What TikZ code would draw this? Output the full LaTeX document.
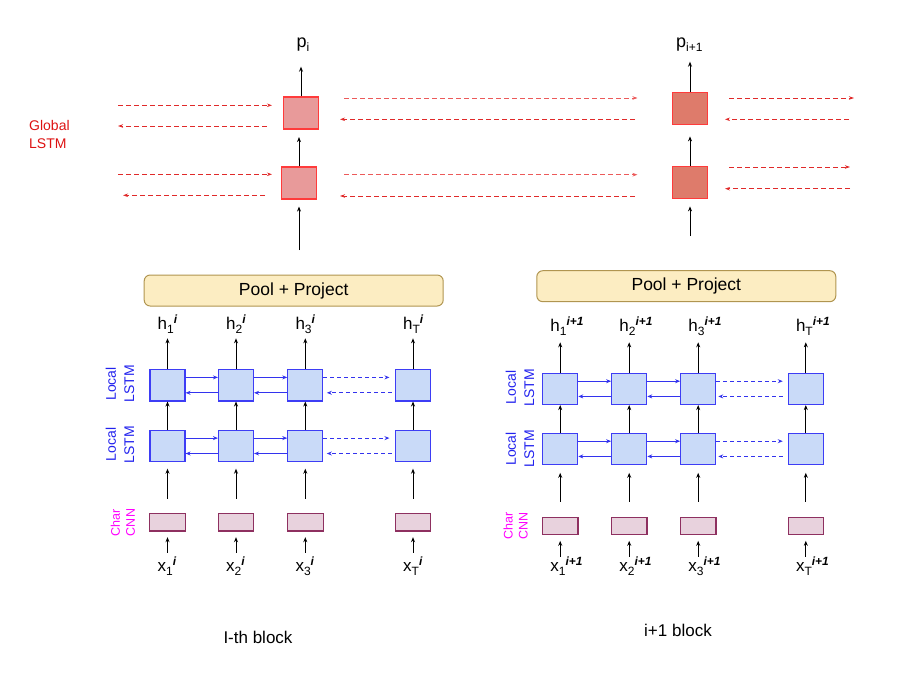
\documentclass[tikz,border=0pt]{standalone}
\usepackage{fontspec}
\setmainfont{Liberation Sans}
\usetikzlibrary{arrows.meta}
\definecolor{gfillA}{HTML}{E89A9A}
\definecolor{gfillB}{HTML}{DE7B6B}
\definecolor{gborder}{HTML}{FF3B3B}
\definecolor{dred}{HTML}{E02A2A}
\definecolor{lred}{HTML}{EC5A5A}
\definecolor{lfill}{HTML}{C9DAF8}
\definecolor{lborder}{HTML}{3D3DF5}
\definecolor{barrow}{HTML}{3333EE}
\definecolor{pfill}{HTML}{FCEDC2}
\definecolor{pborder}{HTML}{B09550}
\definecolor{cfill}{HTML}{E8D2DD}
\definecolor{cborder}{HTML}{8E3060}
\definecolor{mag}{HTML}{FF00FF}
\definecolor{lblue}{HTML}{2222EE}
\definecolor{gred}{HTML}{DD1111}
\tikzset{
  gboxA/.style={draw=gborder, line width=1.2pt, fill=gfillA, minimum width=35pt, minimum height=32pt, inner sep=0pt},
  gboxB/.style={draw=gborder, line width=1.2pt, fill=gfillB, minimum width=35pt, minimum height=32pt, inner sep=0pt},
  lbox/.style={draw=lborder, line width=1.1pt, fill=lfill, minimum width=35pt, minimum height=31.5pt, inner sep=0pt},
  cbox/.style={draw=cborder, line width=1.1pt, fill=cfill, minimum width=35.5pt, minimum height=17.5pt, inner sep=0pt},
  poolbox/.style={draw=pborder, line width=1pt, fill=pfill, rounded corners=6pt, minimum width=299pt, minimum height=31pt, inner sep=0pt, font=\fontsize{17.5}{20}\selectfont},
  varrow/.style={-{Stealth[length=5pt,width=4pt]}, line width=0.9pt, black},
  harrow/.style={-{Stealth[length=5pt,width=4pt]}, line width=1pt, barrow},
  dharrow/.style={harrow, dash pattern=on 4pt off 3pt},
  rdash/.style={-{Stealth[length=5pt,width=3.5pt]}, line width=0.9pt, dred, dash pattern=on 5pt off 3pt},
  rdashl/.style={rdash, lred},
  lab/.style={inner sep=0pt, font=\fontsize{17}{20}\selectfont},
  sidel/.style={inner sep=0pt, rotate=90, align=center, text=lblue, font=\fontsize{14}{18.3}\selectfont},
  cnnl/.style={inner sep=0pt, rotate=90, align=center, text=mag, font=\fontsize{12.5}{15}\selectfont},
}
\newcommand{\bsup}[1]{\textsuperscript{\textbf{\textit{#1}}}}
\newcommand{\lsub}[1]{\raisebox{-0.25em}{\fontsize{12}{14}\selectfont #1}}
\begin{document}
\begin{tikzpicture}[x=1pt,y=-1pt]
\useasboundingbox (0,0) rectangle (913,680);
% ---------------- Global LSTM ----------------
\node[inner sep=0pt, anchor=west, align=left, text=gred, font=\fontsize{14}{18.3}\selectfont] (glabel) at (29,134.5) {Global\\LSTM};
% block i global
\node[gboxA] (G1t) at (301,113) {};
\node[gboxA] (G1b) at (299,183) {};
\coordinate (G1in) at (299,250);
\coordinate (G1out) at (301,66.7);
\node[lab, anchor=base west, font=\fontsize{18}{20}\selectfont] (p1) at (296.5,47) {p\lsub{i}};
\draw[varrow] (G1t.north) -- (G1out);
\draw[varrow, shorten >=7.5pt] (G1b.north) -- (G1b.north |- G1t.south);
\draw[varrow, shorten >=7pt] (G1in) -- (G1b.south);
% block i+1 global
\node[gboxB] (G2t) at (690,108.3) {};
\node[gboxB] (G2b) at (690,182.5) {};
\coordinate (G2in) at (690,236);
\coordinate (G2out) at (690,61.7);
\node[lab, anchor=base west, font=\fontsize{18}{20}\selectfont] (p2) at (676,47) {p\lsub{i+1}};
\draw[varrow] (G2t.north) -- (G2out);
\draw[varrow, shorten >=11.5pt] (G2b.north) -- (G2t.south);
\draw[varrow, shorten >=7.3pt] (G2in) -- (G2b.south);
% left dashed lines
\coordinate (L1a) at (118,105.3); \coordinate (L1b) at (272,105.3);
\coordinate (L2a) at (267,126);   \coordinate (L2b) at (118,126);
\coordinate (L3a) at (118,174.3); \coordinate (L3b) at (272,174.3);
\coordinate (L4a) at (265,195.3); \coordinate (L4b) at (123,195.3);
\draw[rdash] (L1a) -- (L1b);
\draw[rdash] (L2a) -- (L2b);
\draw[rdash] (L3a) -- (L3b);
\draw[rdash] (L4a) -- (L4b);
% middle dashed lines
\coordinate (M1a) at (344,98);    \coordinate (M1b) at (637.5,98);
\coordinate (M2a) at (635,119.3); \coordinate (M2b) at (340,119.3);
\coordinate (M3a) at (344,174.7); \coordinate (M3b) at (637.5,174.7);
\coordinate (M4a) at (635,196);   \coordinate (M4b) at (340,196);
\draw[rdashl] (M1a) -- (M1b);
\draw[rdash] (M2a) -- (M2b);
\draw[rdashl] (M3a) -- (M3b);
\draw[rdash] (M4a) -- (M4b);
% right dashed lines
\coordinate (R1a) at (729,98);    \coordinate (R1b) at (854,98);
\coordinate (R2a) at (849,119.3); \coordinate (R2b) at (725,119.3);
\coordinate (R3a) at (729,167);   \coordinate (R3b) at (850,167);
\coordinate (R4a) at (850,188.7); \coordinate (R4b) at (725,188.7);
\draw[rdash] (R1a) -- (R1b);
\draw[rdash] (R2a) -- (R2b);
\draw[rdash] (R3a) -- (R3b);
\draw[rdash] (R4a) -- (R4b);
% ---------------- Block i ----------------
\node[poolbox] (P1) at (293.7,290.5) {Pool + Project};
\node[sidel] (LL1t) at (120,384) {Local\\LSTM};
\node[sidel] (LL1b) at (120,444.5) {Local\\LSTM};
\node[cnnl] (CC1) at (123,522.5) {Char\\CNN};
\foreach \n/\cx in {1/167.5,2/236,3/305.3,T/413} {
  \node[lbox] (Ai\n) at (\cx,385.2) {};
  \node[lbox] (Bi\n) at (\cx,445.9) {};
  \node[cbox] (Ci\n) at (\cx,522.2) {};
  \draw[varrow] (Bi\n.north) -- (Ai\n.south);
  \draw[varrow, shorten <=14pt, shorten >=6.5pt] (Ci\n.north) -- (Bi\n.south);
  \coordinate (xi\n) at (\cx,552.7);
  \draw[varrow, shorten >=5.7pt] (xi\n) -- (Ci\n.south);
  \coordinate (hi\n) at (\cx,338.3);
  \draw[varrow] (Ai\n.north) -- (hi\n);
  \node[lab, anchor=base west] (hli\n) at ({\cx-10},329.5) {h\lsub{\n}\bsup{i}};
  \node[lab, anchor=base west] (xli\n) at ({\cx-10},571.5) {x\lsub{\n}\bsup{i}};
}
\foreach \r in {A,B} {
  \foreach \a/\b in {1/2,2/3} {
    \draw[harrow] ([yshift=7.8pt]\r i\a.east) -- ([yshift=7.8pt]\r i\b.west);
    \draw[harrow] ([yshift=-7.6pt]\r i\b.west) -- ([yshift=-7.6pt]\r i\a.east);
  }
  \draw[dharrow, shorten >=5.5pt] ([yshift=7.8pt]\r i3.east) -- ([yshift=7.8pt]\r iT.west);
  \draw[dharrow, shorten <=3pt, shorten >=3.5pt] ([yshift=-7.6pt]\r iT.west) -- ([yshift=-7.6pt]\r i3.east);
}
\node[lab, font=\fontsize{17}{20}\selectfont] (blk1) at (258,637) {I-th block};
% ---------------- Block i+1 ----------------
\node[poolbox] (P2) at (686.3,286.2) {Pool + Project};
\node[sidel] (LL2t) at (520,387.5) {Local\\LSTM};
\node[sidel] (LL2b) at (520,449) {Local\\LSTM};
\node[cnnl] (CC2) at (515.7,526) {Char\\CNN};
\foreach \n/\cx in {1/560.2,2/629.2,3/698.2,T/805.8} {
  \node[lbox] (Aj\n) at (\cx,388.8) {};
  \node[lbox] (Bj\n) at (\cx,448.8) {};
  \node[cbox] (Cj\n) at (\cx,525.8) {};
  \draw[varrow] (Bj\n.north) -- (Aj\n.south);
  \draw[varrow, shorten <=14.6pt, shorten >=7.7pt] (Cj\n.north) -- (Bj\n.south);
  \coordinate (xj\n) at (\cx,556.7);
  \draw[varrow, shorten >=5.7pt] (xj\n) -- (Cj\n.south);
  \coordinate (hj\n) at (\cx,342.3);
  \draw[varrow] (Aj\n.north) -- (hj\n);
  \node[lab, anchor=base west] (hlj\n) at ({\cx-10},331.5) {h\lsub{\n}\bsup{i+1}};
  \node[lab, anchor=base west] (xlj\n) at ({\cx-10},571.5) {x\lsub{\n}\bsup{i+1}};
}
\foreach \r in {A,B} {
  \foreach \a/\b in {1/2,2/3} {
    \draw[harrow] ([yshift=7.6pt]\r j\a.east) -- ([yshift=7.6pt]\r j\b.west);
    \draw[harrow] ([yshift=-7.6pt]\r j\b.west) -- ([yshift=-7.6pt]\r j\a.east);
  }
  \draw[dharrow, shorten >=5pt] ([yshift=7.6pt]\r j3.east) -- ([yshift=7.6pt]\r jT.west);
  \draw[dharrow, shorten <=5pt, shorten >=2pt] ([yshift=-7.6pt]\r jT.west) -- ([yshift=-7.6pt]\r j3.east);
}
\node[lab, font=\fontsize{17}{20}\selectfont] (blk2) at (678,630) {i+1 block};
\end{tikzpicture}
\end{document}
